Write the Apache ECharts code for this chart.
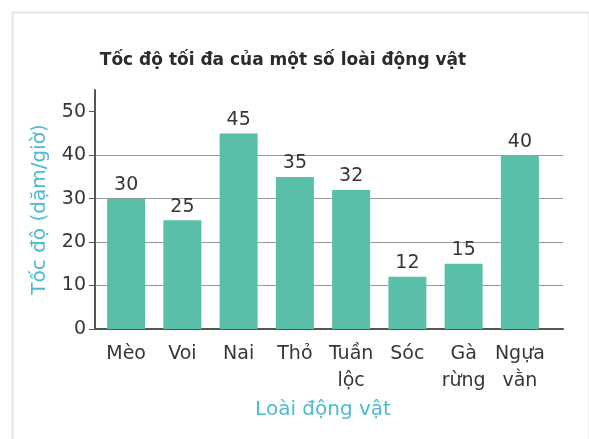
<!DOCTYPE html>
<html>
<head>
<meta charset="utf-8">
<style>
html,body{margin:0;padding:0;background:#fff;}
#c{width:589px;height:439px;}
</style>
<script src="https://cdn.jsdelivr.net/npm/echarts@6/dist/echarts.min.js"></script>
</head>
<body>
<div id="c"></div>
<script>
var titleText = 'Tốc độ tối đa của một số loài động vật';
var categories = ['Mèo', 'Voi', 'Nai', 'Thỏ', 'Tuần\nlộc', 'Sóc', 'Gà\nrừng', 'Ngựa\nvằn'];
var speeds = [30, 25, 45, 35, 32, 12, 15, 40];
var yTicks = [0, 10, 20, 30, 40, 50];
var yName = 'Tốc độ (dặm/giờ)';
var xName = 'Loài động vật';

var font = 'DejaVu Sans, Verdana, sans-serif';
var chart = echarts.init(document.getElementById('c'), null, {renderer: 'canvas'});
chart.setOption({
  backgroundColor: '#ffffff',
  animation: false,
  graphic: [{
    type: 'rect', left: 10, top: 10, shape: {width: 577, height: 440},
    style: {fill: 'none', stroke: '#e6e6e6', lineWidth: 2}, silent: true, z: -10
  }],
  title: {
    text: titleText, left: 278, top: 47, textAlign: 'center',
    textStyle: {fontFamily: font, fontSize: 17, fontWeight: 'bold', color: '#2b2b2b'}
  },
  grid: [
    {left: 95, right: 26, top: 90, bottom: 110},
    {left: 98, width: 450, top: 90, bottom: 110}
  ],
  xAxis: [
    {gridIndex: 0, type: 'value', min: 0, max: 1,
     axisLine: {show: true, onZero: false, lineStyle: {color: '#555', width: 2}},
     axisTick: {show: false}, axisLabel: {show: false}, splitLine: {show: false}},
    {gridIndex: 1, type: 'category', data: categories,
     axisLine: {show: false}, axisTick: {show: false},
     axisLabel: {margin: 12, fontFamily: font, fontSize: 19, color: '#363636', lineHeight: 27, interval: 0},
     name: xName, nameLocation: 'middle', nameGap: 69,
     nameTextStyle: {fontFamily: font, fontSize: 20, color: '#4cbad0'}}
  ],
  yAxis: [
    {gridIndex: 0, type: 'value', min: 0, max: 55, interval: 10,
     axisLine: {show: true, lineStyle: {color: '#555', width: 2}},
     axisTick: {show: true, length: 6, customValues: yTicks, lineStyle: {color: '#555'}},
     axisLabel: {margin: 9, fontFamily: font, fontSize: 19, color: '#363636', customValues: yTicks},
     splitLine: {show: true, showMinLine: false, showMaxLine: false, lineStyle: {color: '#9a9a9a', width: 1}},
     name: yName, nameLocation: 'middle', nameGap: 45,
     nameTextStyle: {fontFamily: font, fontSize: 20, color: '#4cbad0'}},
    {gridIndex: 1, type: 'value', min: 0, max: 55, show: false}
  ],
  series: [{
    type: 'bar', xAxisIndex: 1, yAxisIndex: 1, data: speeds, barWidth: 38,
    itemStyle: {color: '#5abfa8'},
    label: {show: true, position: 'top', distance: 4, fontFamily: font, fontSize: 19, color: '#363636'},
    z: 3
  }]
});
</script>
</body>
</html>
